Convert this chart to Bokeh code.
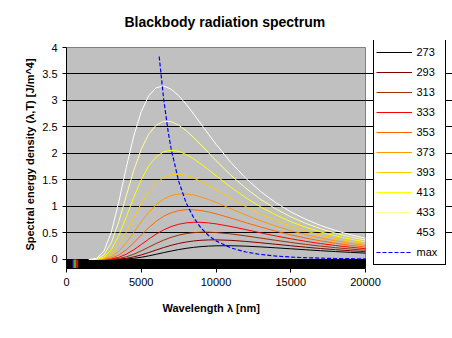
from bokeh.plotting import figure
from bokeh.models import Range1d, FixedTicker, Legend, LegendItem, CustomJSTickFormatter, Title
from bokeh.embed import file_html
from bokeh.resources import INLINE

FONT = "Liberation Sans"

# wavelength samples [nm]
wavelengths = [1500, 2000, 2500, 3000, 3500, 4000, 4500, 5000, 5500, 6000, 6500, 7000,
               7500, 8000, 8500, 9000, 9500, 10000, 11000, 12000, 13000, 14000, 15000,
               16000, 17000, 18000, 19000, 20000]

temperatures = ["273", "293", "313", "333", "353", "373", "393", "413", "433", "453"]

u_273 = [0, 0, 0.0000, 0.0005, 0.0027, 0.0092, 0.0222, 0.0422, 0.0684, 0.0984, 0.1295, 0.1596, 0.1869, 0.2101, 0.2287, 0.2428, 0.2524, 0.2581, 0.2595, 0.2515, 0.2374, 0.2203, 0.2019, 0.1835, 0.1658, 0.1493, 0.1342, 0.1205]
u_293 = [0, 0, 0.0002, 0.0016, 0.0077, 0.0227, 0.0493, 0.0867, 0.1315, 0.1791, 0.2254, 0.2670, 0.3021, 0.3296, 0.3496, 0.3626, 0.3692, 0.3706, 0.3611, 0.3408, 0.3149, 0.2868, 0.2587, 0.2320, 0.2072, 0.1847, 0.1645, 0.1465]
u_313 = [0, 0, 0.0005, 0.0046, 0.0188, 0.0498, 0.0991, 0.1624, 0.2327, 0.3024, 0.3654, 0.4183, 0.4593, 0.4885, 0.5064, 0.5147, 0.5150, 0.5086, 0.4822, 0.4449, 0.4034, 0.3617, 0.3219, 0.2853, 0.2523, 0.2229, 0.1969, 0.1741]
u_333 = [0, 0.0001, 0.0016, 0.0114, 0.0414, 0.0993, 0.1829, 0.2822, 0.3844, 0.4791, 0.5591, 0.6210, 0.6645, 0.6906, 0.7020, 0.7011, 0.6904, 0.6725, 0.6224, 0.5633, 0.5024, 0.4443, 0.3908, 0.3429, 0.3005, 0.2635, 0.2312, 0.2033]
u_353 = [0, 0.0002, 0.0042, 0.0258, 0.0833, 0.1831, 0.3152, 0.4605, 0.6003, 0.7208, 0.8152, 0.8817, 0.9220, 0.9395, 0.9382, 0.9225, 0.8962, 0.8623, 0.7815, 0.6952, 0.6114, 0.5342, 0.4650, 0.4045, 0.3517, 0.3063, 0.2673, 0.2337]
u_373 = [0, 0.0007, 0.0102, 0.0535, 0.1554, 0.3162, 0.5123, 0.7128, 0.8933, 1.0381, 1.1419, 1.2061, 1.2357, 1.2368, 1.2164, 1.1798, 1.1320, 1.0775, 0.9586, 0.8398, 0.7294, 0.6305, 0.5439, 0.4694, 0.4055, 0.3511, 0.3047, 0.2653]
u_393 = [0, 0.0018, 0.0223, 0.1029, 0.2724, 0.5163, 0.7922, 1.0563, 1.2772, 1.4407, 1.5459, 1.5986, 1.6080, 1.5844, 1.5364, 1.4722, 1.3975, 1.3172, 1.1528, 0.9966, 0.8557, 0.7328, 0.6273, 0.5375, 0.4617, 0.3977, 0.3435, 0.2979]
u_413 = [0, 0.0042, 0.0454, 0.1859, 0.4519, 0.8046, 1.1748, 1.5062, 1.7636, 1.9374, 2.0329, 2.0625, 2.0411, 1.9825, 1.8988, 1.7996, 1.6918, 1.5808, 1.3634, 1.1645, 0.9900, 0.8407, 0.7144, 0.6086, 0.5200, 0.4458, 0.3835, 0.3314]
u_433 = [0, 0.0095, 0.0863, 0.3180, 0.7158, 1.2033, 1.6815, 2.0790, 2.3646, 2.5354, 2.6072, 2.6005, 2.5355, 2.4316, 2.3027, 2.1608, 2.0136, 1.8669, 1.5892, 1.3426, 1.1315, 0.9536, 0.8053, 0.6822, 0.5801, 0.4953, 0.4246, 0.3656]
u_453 = [0.0004, 0.0198, 0.1552, 0.5186, 1.0882, 1.7358, 2.3300, 2.7888, 3.0896, 3.2413, 3.2724, 3.2133, 3.0913, 2.9298, 2.7472, 2.5548, 2.3622, 2.1751, 1.8292, 1.5306, 1.2795, 1.0711, 0.8993, 0.7582, 0.6419, 0.5460, 0.4666, 0.4006]

series = [u_273, u_293, u_313, u_333, u_353, u_373, u_393, u_413, u_433, u_453]
series_colors = ["#000000", "#800000", "#993300", "#FF0000", "#FF6600",
                 "#FF9900", "#FFCC00", "#FFFF00", "#FFFF99", "#FFFFFF"]

# Wien maximum curve
max_wl = [6200, 6500, 6800, 7000, 7500, 8000, 8500, 9000, 9500, 10000, 11000, 12000,
          13000, 14000, 15000, 16000, 18000, 20000]
max_u = [3.830, 3.024, 2.413, 2.087, 1.478, 1.071, 0.791, 0.594, 0.453, 0.351, 0.218, 0.141,
         0.0945, 0.0652, 0.0462, 0.0335, 0.0186, 0.0110]

# visible spectrum strip
spec_left = [380, 420, 450, 480, 510, 550, 580, 610, 650]
spec_right = [420, 450, 480, 510, 550, 580, 610, 650, 780]
spec_colors = ["#6000C0", "#0000FF", "#0080FF", "#00E0E0", "#00FF00", "#C0FF00", "#FFFF00", "#FF8000", "#FF0000"]

y_ticks = [0, 0.5, 1, 1.5, 2, 2.5, 3, 3.5, 4]
y_grid = [0.5, 1, 1.5, 2, 2.5, 3, 3.5]
x_ticks = [0, 5000, 10000, 15000, 20000]

x_max = 20000
y_min = -0.17
y_max = 4

# layout: frame spans x 66..452, y 40..268; grey plotting area spans x 66..365, y 47..268
W, H = 452, 338
left_b, right_b, top_b, bottom_b = 66, 0, 40, 70
plot_w, plot_h = 299, 221
frame_w = W - left_b - right_b
frame_h = H - top_b - bottom_b
x_end = x_max * frame_w / plot_w
y_top = y_min + (y_max - y_min) * frame_h / plot_h

p = figure(width=W, height=H, output_backend="svg", toolbar_location=None,
           x_range=Range1d(0, x_end), y_range=Range1d(y_min, y_top),
           min_border_left=left_b, min_border_right=right_b, min_border_top=top_b,
           min_border_bottom=bottom_b,
           background_fill_color="white", border_fill_color="white",
           outline_line_color=None, title="Blackbody radiation spectrum")

p.title.text_font = FONT
p.title.text_font_size = "14px"
p.title.text_font_style = "bold"
p.title.text_color = "black"
p.title.align = "left"
p.title.offset = 58
p.title.standoff = 21

p.xgrid.visible = False
p.ygrid.ticker = FixedTicker(ticks=y_grid)
p.ygrid.grid_line_color = "black"
p.ygrid.grid_line_width = 1
p.ygrid.bounds = (0, x_max)

# grey plotting area with grey border
p.quad(left=[0], right=[x_max], bottom=[y_min], top=[y_max],
       fill_color="#C0C0C0", line_color="#808080", line_width=1, level="underlay")

for ax in (p.xaxis[0], p.yaxis[0]):
    ax.major_tick_out = 4
    ax.major_tick_in = 0
    ax.minor_tick_line_color = None
    ax.axis_line_color = "black"
    ax.major_tick_line_color = "black"
    ax.major_label_text_font = FONT
    ax.major_label_text_font_size = "11px"
    ax.major_label_text_color = "black"
    ax.axis_label_text_font = FONT
    ax.axis_label_text_font_size = "11px"
    ax.axis_label_text_font_style = "bold"
    ax.axis_label_text_color = "black"

p.xaxis.bounds = (0, x_max)
p.yaxis.bounds = (y_min, y_max)
p.xaxis.ticker = FixedTicker(ticks=x_ticks)
p.yaxis.ticker = FixedTicker(ticks=y_ticks)
p.yaxis.formatter = CustomJSTickFormatter(code="return tick.toString();")
p.xaxis.formatter = CustomJSTickFormatter(code="return tick.toString();")
p.xaxis.major_label_standoff = 5
p.yaxis.major_label_standoff = 5
p.yaxis.axis_label = "Spectral energy density (λ,T) [J/m^4]"
p.yaxis.axis_label_standoff = 3

# x-axis title, centred under the grey plotting area
xtitle = Title(text="Wavelength λ [nm]", align="left", offset=96, standoff=23,
               text_font=FONT, text_font_size="11px", text_font_style="bold", text_color="black")
p.add_layout(xtitle, "below")

# black base bar and visible spectrum
p.quad(left=[0], right=[x_max], bottom=[y_min], top=[0], color="black")
p.quad(left=spec_left, right=spec_right, bottom=[y_min] * len(spec_left), top=[0] * len(spec_left),
       color=spec_colors, line_color=None)

items = []
for name, vals, col in zip(temperatures, series, series_colors):
    r = p.line(wavelengths, vals, line_color=col, line_width=1)
    items.append(LegendItem(label=name, renderers=[r]))

rmax = p.line(max_wl, max_u, line_color="#0000FF", line_width=1.2, line_dash="4 2")
items.append(LegendItem(label="max", renderers=[rmax]))

legend = Legend(items=items, location=(306.5, 3.5))
legend.border_line_color = "black"
legend.border_line_alpha = 1
legend.border_line_width = 1
legend.background_fill_color = "white"
legend.background_fill_alpha = 1
legend.label_text_font = FONT
legend.label_text_font_size = "11px"
legend.label_text_color = "black"
legend.glyph_width = 36
legend.glyph_height = 20
legend.label_height = 20
legend.label_width = 26
legend.spacing = 0
legend.padding = 2
legend.margin = 0
legend.label_standoff = 5
p.add_layout(legend)

open("out.html", "w").write(file_html(p, INLINE))
